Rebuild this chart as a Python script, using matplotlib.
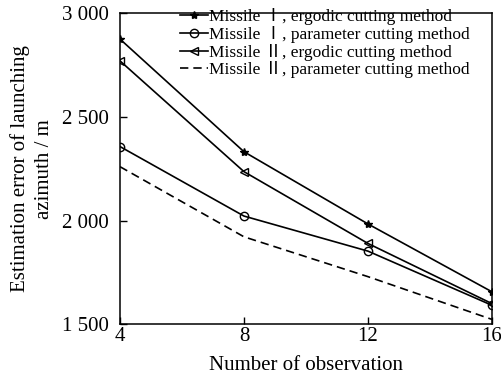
import matplotlib
matplotlib.use('Agg')
import matplotlib.pyplot as plt
from matplotlib.ticker import FuncFormatter

plt.rcParams['font.family'] = ['Liberation Serif', 'Noto Sans CJK SC', 'DejaVu Serif']

obs = [4, 8, 12, 16]
m1_ergodic = [2875, 2332, 1984, 1657]
m1_param = [2357, 2022, 1853, 1592]
m2_ergodic = [2770, 2236, 1890, 1600]
m2_param = [2260, 1922, 1730, 1524]

labels = [
    'Missile \u2160, ergodic cutting method',
    'Missile \u2160, parameter cutting method',
    'Missile \u2161, ergodic cutting method',
    'Missile \u2161, parameter cutting method',
]

fig = plt.figure(figsize=(5.02, 3.75), dpi=100)
ax = fig.add_axes([0.239, 0.135, 0.741, 0.830])

lw = 1.2
ax.plot(obs, m1_ergodic, color='black', lw=lw, marker='*', ms=6, label=labels[0])
ax.plot(obs, m1_param, color='black', lw=lw, marker='o', ms=6, mfc='none', mew=1.0, label=labels[1])
ax.plot(obs, m2_ergodic, color='black', lw=lw, marker='<', ms=6, mfc='none', mew=1.0, label=labels[2])
ax.plot(obs, m2_param, color='black', lw=lw, ls=(0, (5, 3)), label=labels[3])

ax.set_xlim(4, 16)
ax.set_ylim(1500, 3000)
ax.set_xticks(obs)
ax.set_yticks([1500, 2000, 2500, 3000])
ax.yaxis.set_major_formatter(FuncFormatter(lambda v, p: f'{int(v):,}'.replace(',', ' ')))
ax.tick_params(direction='in', length=5, width=1, labelsize=15)
ax.tick_params(axis='y', pad=8)
ax.tick_params(axis='x', pad=2)
for s in ax.spines.values():
    s.set_linewidth(1.1)

ax.set_xlabel('Number of observation', fontsize=15, labelpad=7)
ax.set_ylabel('Estimation error of launching\nazimuth / m', fontsize=15, labelpad=6,
              linespacing=1.3)

ax.legend(loc='upper left', bbox_to_anchor=(0.3586, 0.979), bbox_transform=fig.transFigure,
          frameon=False, fontsize=12.5, handlelength=1.6, handletextpad=0.05,
          labelspacing=0.05, borderaxespad=0, borderpad=0)

fig.savefig('out.png', dpi=100)
